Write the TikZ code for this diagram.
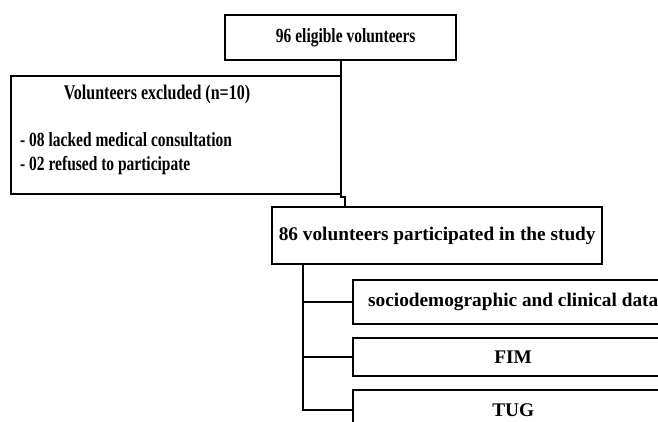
\documentclass[tikz,border=0pt]{standalone}
\usepackage{fontspec}
\setmainfont{Liberation Serif}
\usetikzlibrary{positioning}
% narrow, tall lettering of the upper boxes
\newcommand{\tallbf}[1]{\scalebox{1}[1.3]{#1}}

\begin{document}
\begin{tikzpicture}[x=1pt,y=-1pt,
  box/.style={draw,line width=2.4pt,inner sep=0pt,anchor=north west},
  wire/.style={line width=2.2pt}]
\fontsize{19.3}{23}\selectfont\bfseries
\useasboundingbox (0,0) rectangle (658,421);
\clip (0,0) rectangle (658,421);
% Enrolment
\node[box,minimum width=231pt,minimum height=45pt,font=\fontsize{15.5}{18}\selectfont\bfseries]
  (elig) at (224,14) {\hspace*{10pt}\tallbf{96 eligible volunteers}};
\node[box,minimum width=330pt,minimum height=118pt] (excl) at (10,75) {};
\node[font=\fontsize{16}{19}\selectfont\bfseries] (exclhead) at (157,94)
  {\tallbf{Volunteers excluded (n=10)}};
\node[anchor=west,align=left,inner sep=0pt,font=\fontsize{15.5}{24}\selectfont\bfseries] (excllist) at (20,154)
  {\tallbf{- 08 lacked medical consultation}\\\tallbf{- 02 refused to participate}};
\node[box,minimum width=330pt,minimum height=57pt] (part) at (271,206) {86 volunteers participated in the study};
% Assessments
\node[box,minimum width=320pt,minimum height=44pt] (socio) at (352,279) {sociodemographic and clinical data};
\node[box,minimum width=320pt,minimum height=38pt] (fim) at (352,337) {FIM};
\node[box,minimum width=320pt,minimum height=40pt] (tug) at (352,389) {TUG};
% Connectors
\coordinate (jog) at (345,197);
\draw[wire] (elig.south) |- (jog) -- (jog |- part.north);
\draw[wire] (part.south west) ++(32,0) coordinate (trunk) |- (tug.west);
\draw[wire] (trunk |- socio.west) -- (socio.west);
\draw[wire] (trunk |- fim.west) -- (fim.west);
\end{tikzpicture}
\end{document}
